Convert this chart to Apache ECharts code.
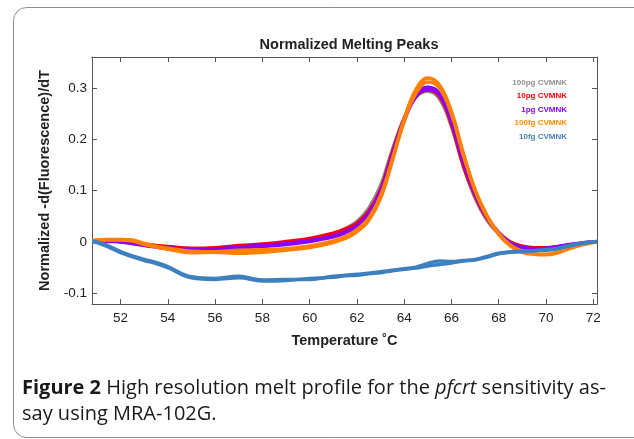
<!DOCTYPE html>
<html><head><meta charset="utf-8">
<script src="https://cdn.jsdelivr.net/npm/echarts@6/dist/echarts.min.js"></script>
<style>html,body{margin:0;padding:0;background:#fff}#c{width:634px;height:439px}</style>
</head><body><div id="c"></div>
<script>
const temps = [50.8, 51, 51.5, 52, 52.5, 53, 53.5, 54, 55, 56, 57, 58, 59, 60, 61, 61.5, 62, 62.5, 63, 63.5, 64, 64.5, 65, 65.5, 66, 66.5, 67, 67.5, 68, 68.5, 69, 69.5, 70, 70.5, 71, 71.5, 72, 72.16];
const gray100pg = [0.001, 0.002, 0.002, 0.002, -0.001, -0.005, -0.008, -0.010, -0.013, -0.012, -0.009, -0.006, -0.001, 0.005, 0.016, 0.026, 0.040, 0.066, 0.110, 0.180, 0.242, 0.283, 0.294, 0.279, 0.225, 0.148, 0.086, 0.043, 0.016, -0.001, -0.009, -0.012, -0.012, -0.010, -0.007, -0.003, 0.000, 0.000];
const red10pg = [0.001, 0.002, 0.003, 0.003, 0.000, -0.004, -0.007, -0.009, -0.012, -0.011, -0.007, -0.004, 0.001, 0.007, 0.017, 0.025, 0.037, 0.060, 0.102, 0.175, 0.240, 0.284, 0.296, 0.284, 0.230, 0.150, 0.090, 0.046, 0.018, 0.000, -0.008, -0.011, -0.011, -0.009, -0.006, -0.003, 0.000, 0.000];
const purple1pgA = [0.002, 0.003, 0.002, 0.001, -0.002, -0.006, -0.009, -0.011, -0.015, -0.014, -0.010, -0.007, -0.003, 0.003, 0.012, 0.020, 0.032, 0.056, 0.098, 0.170, 0.240, 0.288, 0.302, 0.290, 0.238, 0.158, 0.094, 0.048, 0.016, -0.003, -0.011, -0.014, -0.013, -0.010, -0.006, -0.003, 0.000, 0.000];
const purple1pgB = [0.001, 0.002, 0.001, 0.000, -0.003, -0.007, -0.010, -0.013, -0.017, -0.016, -0.012, -0.009, -0.005, 0.001, 0.010, 0.018, 0.030, 0.053, 0.095, 0.166, 0.236, 0.284, 0.298, 0.287, 0.236, 0.160, 0.096, 0.050, 0.018, -0.002, -0.010, -0.013, -0.012, -0.009, -0.005, -0.002, 0.000, 0.000];
const orange100fgA = [0.003, 0.004, 0.005, 0.005, 0.004, -0.003, -0.008, -0.012, -0.018, -0.019, -0.016, -0.015, -0.013, -0.008, 0.002, 0.010, 0.024, 0.047, 0.090, 0.162, 0.240, 0.298, 0.320, 0.306, 0.255, 0.174, 0.102, 0.052, 0.017, -0.006, -0.018, -0.023, -0.024, -0.020, -0.012, -0.005, 0.000, 0.000];
const orange100fgB = [0.002, 0.003, 0.004, 0.004, 0.002, -0.005, -0.010, -0.014, -0.021, -0.020, -0.022, -0.020, -0.016, -0.011, -0.001, 0.007, 0.020, 0.042, 0.085, 0.158, 0.236, 0.290, 0.312, 0.300, 0.250, 0.170, 0.100, 0.050, 0.015, -0.008, -0.020, -0.024, -0.025, -0.021, -0.013, -0.006, -0.001, 0.000];
const blue10fgA = [0.002, 0.000, -0.008, -0.019, -0.027, -0.034, -0.040, -0.048, -0.068, -0.071, -0.067, -0.074, -0.073, -0.073, -0.067, -0.065, -0.063, -0.061, -0.058, -0.055, -0.052, -0.049, -0.042, -0.037, -0.038, -0.036, -0.034, -0.028, -0.022, -0.019, -0.018, -0.017, -0.016, -0.013, -0.008, -0.003, 0.000, 0.001];
const blue10fgB = [0.001, -0.001, -0.010, -0.021, -0.029, -0.036, -0.042, -0.050, -0.070, -0.073, -0.070, -0.076, -0.075, -0.071, -0.069, -0.066, -0.065, -0.062, -0.060, -0.056, -0.053, -0.051, -0.047, -0.044, -0.041, -0.037, -0.035, -0.030, -0.023, -0.020, -0.019, -0.017, -0.015, -0.012, -0.007, -0.002, 0.000, 0.001];
const xTicks = [52, 54, 56, 58, 60, 62, 64, 66, 68, 70, 72];
const yTicks = [-0.1, 0, 0.1, 0.2, 0.3];
const legendNames = ['100pg CVMNK', '10pg CVMNK', '1pg CVMNK', '100fg CVMNK', '10fg CVMNK'];

const colors = ['#8a8a8a', '#ff0000', '#8a00ff', '#ff8000', '#3d80c0'];
const legendColors = ['#8f8f8f', '#ff0000', '#8800ff', '#ff8c00', '#4a80b8'];

function pts(arr) { return temps.map((t, i) => [t, arr[i]]); }
function line(name, arr, color) {
  return { type: 'line', name, data: pts(arr), smooth: 0.4, showSymbol: false, symbol: 'none',
    lineStyle: { color, width: 3.5 }, itemStyle: { color }, emphasis: { disabled: true }, animation: false };
}
const series = [
  line(legendNames[0], gray100pg, colors[0]),
  line(legendNames[1], red10pg, colors[1]),
  line(legendNames[2], purple1pgB, colors[2]),
  line(legendNames[2], purple1pgA, colors[2]),
  line(legendNames[3], orange100fgB, colors[3]),
  line(legendNames[3], orange100fgA, colors[3]),
  line(legendNames[4], blue10fgB, colors[4]),
  line(legendNames[4], blue10fgA, colors[4])
];

const axisColor = '#555';
const font = 'Liberation Sans, Arial, sans-serif';
const xMin = 50.79, xMax = 72.16, yMin = -0.121, yMax = 0.361;
function xAx(pos, labels) {
  return { type: 'value', min: xMin, max: xMax, position: pos,
    axisLine: { show: true, onZero: false, lineStyle: { color: axisColor, width: 1 } },
    axisTick: { show: true, inside: true, length: 5, customValues: xTicks, lineStyle: { color: axisColor } },
    axisLabel: { show: labels, customValues: xTicks, color: '#222', fontSize: 13.5, fontFamily: font, margin: 7 },
    splitLine: { show: false },
    name: labels ? 'Temperature \u02DAC' : '', nameLocation: 'middle', nameGap: 29,
    nameTextStyle: { color: '#222', fontSize: 14.5, fontWeight: 'bold', fontFamily: font } };
}
function yAx(pos, labels) {
  return { type: 'value', min: yMin, max: yMax, position: pos,
    axisLine: { show: true, onZero: false, lineStyle: { color: axisColor, width: 1 } },
    axisTick: { show: true, inside: true, length: 5, customValues: yTicks, lineStyle: { color: axisColor } },
    axisLabel: { show: labels, customValues: yTicks, color: '#222', fontSize: 13.5, fontFamily: font, margin: 5,
      formatter: v => (Math.abs(v) < 1e-9 ? '0' : String(Math.round(v * 10) / 10)) },
    splitLine: { show: false },
    name: labels ? 'Normalized -d(Fluorescence)/dT' : '', nameLocation: 'middle', nameGap: 31,
    nameTextStyle: { color: '#222', fontSize: 14.5, fontWeight: 'bold', fontFamily: font } };
}
const legendTops = [79, 92, 106, 119, 133];
const legends = legendNames.map((n, i) => ({
  data: [{ name: n, icon: 'none', textStyle: { color: legendColors[i] } }],
  right: 67, top: legendTops[i], orient: 'vertical', padding: 0, itemWidth: 0, itemHeight: 0, itemGap: 0,
  selectedMode: false,
  textStyle: { fontSize: 8, fontWeight: 'bold', fontFamily: font, padding: 0 }
}));

const capFont = 'Open Sans, Noto Sans, sans-serif';
const chart = echarts.init(document.getElementById('c'), null, { renderer: 'canvas' });
chart.setOption({
  backgroundColor: '#fff',
  animation: false,
  title: { text: 'Normalized Melting Peaks', left: 344, top: 32, textAlign: 'center',
    textStyle: { fontSize: 14.5, fontWeight: 'bold', color: '#222', fontFamily: font } },
  legend: legends,
  grid: { left: 92, top: 57, width: 505, height: 247, containLabel: false },
  xAxis: [xAx('bottom', true), xAx('top', false)],
  yAxis: [yAx('left', true), yAx('right', false)],
  series,
  graphic: [
    { type: 'rect', shape: { x: 13.5, y: 7.5, width: 660, height: 430, r: 13 }, silent: true,
      style: { fill: 'none', stroke: '#8c8c8c', lineWidth: 1 } },
    { type: 'text', left: 22, top: 375, silent: true,
      style: { text: '{b|Figure 2} High resolution melt profile for the {i|pfcrt} sensitivity as-\nsay using MRA-102G.',
        fontFamily: capFont, fontSize: 20, fill: '#1a1a1a', lineHeight: 26,
        rich: { b: { fontWeight: 'bold', fontSize: 20, fontFamily: capFont, fill: '#1a1a1a', lineHeight: 26 },
                i: { fontStyle: 'italic', fontSize: 20, fontFamily: capFont, fill: '#1a1a1a', lineHeight: 26 } } } }
  ]
});
</script></body></html>
